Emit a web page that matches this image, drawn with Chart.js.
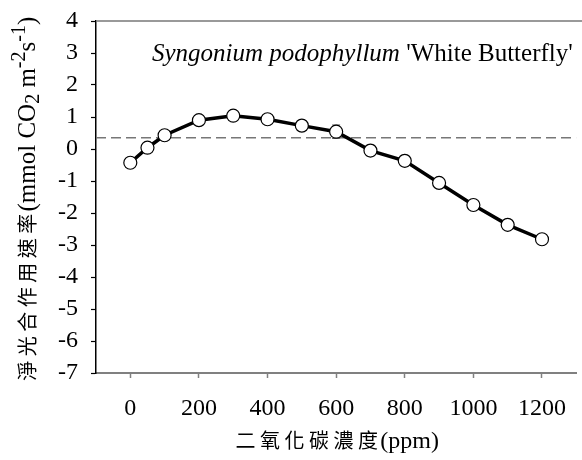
<!DOCTYPE html>
<html>
<head>
<meta charset="utf-8">
<script src="https://cdn.jsdelivr.net/npm/chart.js@4.4.1/dist/chart.umd.min.js"></script>
<style>
    html, body { margin: 0; padding: 0; background: #fff; overflow: hidden; }
    #wrap { width: 584px; height: 460px; }
</style>
</head>
<body>
<div id="wrap"><canvas id="co2Chart" width="584" height="460"></canvas></div>
<script>
// CO2 concentration (ppm) and net photosynthetic rate
const co2Levels = [0, 50, 100, 200, 300, 400, 500, 600, 700, 800, 900, 1000, 1100, 1200];
const netRates = [-0.43, 0.04, 0.43, 0.90, 1.04, 0.93, 0.73, 0.54, -0.05, -0.37, -1.06, -1.75, -2.37, -2.82];
const rateErrors = [0.08, 0.08, 0.10, 0.10, 0.08, 0.10, 0.12, 0.21, 0.17, 0.17, 0.15, 0.10, 0.10, 0.08];
const xTickValues = [0, 200, 400, 600, 800, 1000, 1200];
const yTickValues = [-7, -6, -5, -4, -3, -2, -1, 0, 1, 2, 3, 4];
const referenceLevel = 0.35;

const serif = '"Liberation Serif", "Times New Roman", serif';
const cjk = '"Noto Sans CJK TC", "Noto Sans CJK SC", sans-serif';

// draws CJK chars one by one with a fixed pitch, returns the advance
function drawCjk(ctx, text, x, y, pitch) {
    for (let i = 0; i < text.length; i++) {
        ctx.fillText(text[i], x + i * pitch + pitch / 2, y);
    }
    return text.length * pitch;
}

const errorBars = {
    id: 'errorBars',
    beforeDatasetsDraw(chart) {
        const { ctx, scales: { x, y } } = chart;
        ctx.save();
        ctx.strokeStyle = '#555';
        ctx.lineWidth = 1;
        co2Levels.forEach((c, i) => {
            const px = x.getPixelForValue(c);
            const top = y.getPixelForValue(netRates[i] + rateErrors[i]);
            const bot = y.getPixelForValue(netRates[i] - rateErrors[i]);
            ctx.beginPath();
            ctx.moveTo(px, top); ctx.lineTo(px, bot);
            ctx.moveTo(px - 4, top); ctx.lineTo(px + 4, top);
            ctx.moveTo(px - 4, bot); ctx.lineTo(px + 4, bot);
            ctx.stroke();
        });
        ctx.restore();
    }
};

const decorations = {
    id: 'decorations',
    afterDraw(chart) {
        const { ctx, chartArea } = chart;
        ctx.save();

        // top frame line
        ctx.strokeStyle = '#777';
        ctx.lineWidth = 1.5;
        ctx.beginPath();
        ctx.moveTo(chartArea.left, chartArea.top);
        ctx.lineTo(chart.width, chartArea.top);
        ctx.stroke();

        ctx.fillStyle = '#000';

        // species label
        ctx.textBaseline = 'alphabetic';
        ctx.textAlign = 'left';
        ctx.font = 'italic 25px ' + serif;
        const sp = 'Syngonium podophyllum';
        ctx.fillText(sp, 152, 61);
        const w = ctx.measureText(sp).width;
        ctx.font = '25px ' + serif;
        ctx.fillText(" 'White Butterfly'", 152 + w, 61);

        // x axis title
        const xCn = '二氧化碳濃度';
        const pitch = 24.5;
        ctx.font = '24px ' + serif;
        const ppmW = ctx.measureText('(ppm)').width;
        const total = xCn.length * pitch + ppmW;
        const cx = (chartArea.left + chartArea.right) / 2;
        let sx = cx - total / 2;
        ctx.font = '20px ' + cjk;
        ctx.textAlign = 'center';
        ctx.textBaseline = 'middle';
        sx += drawCjk(ctx, xCn, sx, 440, pitch);
        ctx.font = '24px ' + serif;
        ctx.textAlign = 'left';
        ctx.textBaseline = 'alphabetic';
        ctx.fillText('(ppm)', sx, 448);

        // y axis title, rotated
        ctx.translate(35, 383);
        ctx.rotate(-Math.PI / 2);
        ctx.font = '20px ' + cjk;
        ctx.textAlign = 'center';
        ctx.textBaseline = 'middle';
        let pos = drawCjk(ctx, '淨光合作用速率', 0, -8, 24.5);
        ctx.textAlign = 'left';
        ctx.textBaseline = 'alphabetic';
        const parts = [
            { t: '(mmol CO', dy: 0, size: 25 },
            { t: '2', dy: 4, size: 20 },
            { t: ' m', dy: 0, size: 25 },
            { t: '-2', dy: -10, size: 20 },
            { t: 's', dy: 0, size: 25 },
            { t: '-1', dy: -10, size: 20 },
            { t: ')', dy: 0, size: 25 }
        ];
        parts.forEach(p => {
            ctx.font = p.size + 'px ' + serif;
            ctx.fillText(p.t, pos, p.dy);
            pos += ctx.measureText(p.t).width;
        });
        ctx.restore();
    }
};

new Chart(document.getElementById('co2Chart'), {
    type: 'line',
    data: {
        datasets: [
            {
                label: 'ref',
                data: [{ x: -100, y: referenceLevel }, { x: 1300, y: referenceLevel }],
                borderColor: '#777',
                borderWidth: 1.5,
                borderDash: [10, 5],
                pointRadius: 0,
                order: 2
            },
            {
                label: 'rate',
                data: co2Levels.map((c, i) => ({ x: c, y: netRates[i] })),
                borderColor: '#000',
                borderWidth: 3.5,
                pointRadius: 6.5,
                pointBackgroundColor: '#fff',
                pointBorderColor: '#000',
                pointBorderWidth: 1.2,
                tension: 0,
                order: 1
            }
        ]
    },
    options: {
        responsive: false,
        animation: false,
        layout: { padding: { top: 21, left: 0, right: 0, bottom: 0 } },
        plugins: { legend: { display: false }, tooltip: { enabled: false } },
        scales: {
            x: {
                type: 'linear',
                min: -100,
                max: 1300,
                afterBuildTicks: (scale) => { scale.ticks = xTickValues.map(v => ({ value: v })); },
                afterFit: (scale) => { scale.height = 87; scale.paddingLeft = 0; scale.paddingRight = 0; },
                border: { color: '#808080', width: 2 },
                grid: { drawOnChartArea: false, drawTicks: true, tickLength: 5, color: '#808080', tickWidth: 1.5 },
                ticks: { color: '#000', padding: 16, autoSkip: false, font: { family: serif, size: 24 }, maxRotation: 0,
                         callback: (v) => String(v) }
            },
            y: {
                min: -7,
                max: 4,
                afterBuildTicks: (scale) => { scale.ticks = yTickValues.map(v => ({ value: v })); },
                afterFit: (scale) => { scale.width = 96; scale.paddingTop = 0; scale.paddingBottom = 0; },
                border: { color: '#000', width: 1.5 },
                grid: { drawOnChartArea: false, drawTicks: true, tickLength: 5, color: '#000', tickWidth: 1.2 },
                ticks: { color: '#000', padding: 13, autoSkip: false, font: { family: serif, size: 24 },
                         callback: (v) => String(v) }
            }
        }
    },
    plugins: [errorBars, decorations]
});
</script>
</body>
</html>
